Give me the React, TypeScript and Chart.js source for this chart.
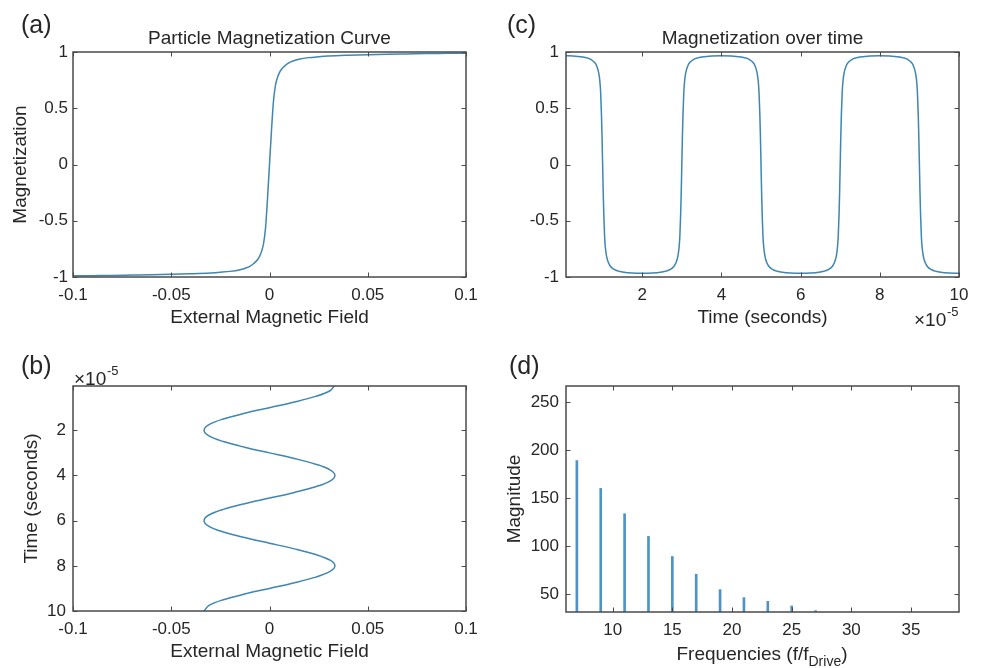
import React, { useEffect, useRef } from "react";
import { Chart, registerables } from "chart.js";

Chart.register(...registerables);

const FONT = "'Liberation Sans', Arial, Helvetica, sans-serif";
const TEXT = "#262626";
const AXIS = "#4a4a4a";
const LINE = "#3f86b0";
const STEM = "#4f93c4";

// ---------- (a) Particle magnetization curve ----------
const fieldA = [-0.1, -0.09, -0.08, -0.07, -0.06, -0.05, -0.04, -0.03, -0.025, -0.02, -0.015, -0.012, -0.01, -0.008, -0.006, -0.005, -0.004, -0.003, -0.002, -0.001, 0, 0.001, 0.002, 0.003, 0.004, 0.005, 0.006, 0.008, 0.01, 0.012, 0.015, 0.02, 0.025, 0.03, 0.04, 0.05, 0.06, 0.07, 0.08, 0.09, 0.1];
const magA = [-0.99, -0.988, -0.986, -0.983, -0.98, -0.976, -0.971, -0.964, -0.958, -0.95, -0.935, -0.92, -0.905, -0.88, -0.845, -0.815, -0.77, -0.7, -0.56, -0.3, 0, 0.3, 0.56, 0.7, 0.77, 0.815, 0.845, 0.88, 0.905, 0.92, 0.935, 0.95, 0.958, 0.964, 0.971, 0.976, 0.98, 0.983, 0.986, 0.988, 0.99];
const xTicksA = [-0.1, -0.05, 0, 0.05, 0.1];
const yTicksA = [-1, -0.5, 0, 0.5, 1];

// ---------- (b) Field over time (time in units of 1e-5 s) ----------
const timeB = [0, 0.25, 0.5, 0.75, 1, 1.25, 1.5, 1.75, 2, 2.25, 2.5, 2.75, 3, 3.25, 3.5, 3.75, 4, 4.25, 4.5, 4.75, 5, 5.25, 5.5, 5.75, 6, 6.25, 6.5, 6.75, 7, 7.25, 7.5, 7.75, 8, 8.25, 8.5, 8.75, 9, 9.25, 9.5, 9.75, 10];
const fieldB = [0.0333, 0.0308, 0.0235, 0.0127, 0, -0.0127, -0.0235, -0.0308, -0.0333, -0.0308, -0.0235, -0.0127, 0, 0.0127, 0.0235, 0.0308, 0.0333, 0.0308, 0.0235, 0.0127, 0, -0.0127, -0.0235, -0.0308, -0.0333, -0.0308, -0.0235, -0.0127, 0, 0.0127, 0.0235, 0.0308, 0.0333, 0.0308, 0.0235, 0.0127, 0, -0.0127, -0.0235, -0.0308, -0.0333];
const xTicksB = [-0.1, -0.05, 0, 0.05, 0.1];
const yTicksB = [2, 4, 6, 8, 10];

// ---------- (c) Magnetization over time (time in units of 1e-5 s) ----------
const timeC = [
  0.075, 0.25,
  0.5, 0.6, 0.7, 0.8, 0.85, 0.9, 0.93, 0.95, 0.97, 0.985, 1, 1.015, 1.03, 1.05, 1.07, 1.1, 1.15, 1.2, 1.3, 1.4, 1.5,
  1.75, 2, 2.25,
  2.5, 2.6, 2.7, 2.8, 2.85, 2.9, 2.93, 2.95, 2.97, 2.985, 3, 3.015, 3.03, 3.05, 3.07, 3.1, 3.15, 3.2, 3.3, 3.4, 3.5,
  3.75, 4, 4.25,
  4.5, 4.6, 4.7, 4.8, 4.85, 4.9, 4.93, 4.95, 4.97, 4.985, 5, 5.015, 5.03, 5.05, 5.07, 5.1, 5.15, 5.2, 5.3, 5.4, 5.5,
  5.75, 6, 6.25,
  6.5, 6.6, 6.7, 6.8, 6.85, 6.9, 6.93, 6.95, 6.97, 6.985, 7, 7.015, 7.03, 7.05, 7.07, 7.1, 7.15, 7.2, 7.3, 7.4, 7.5,
  7.75, 8, 8.25,
  8.5, 8.6, 8.7, 8.8, 8.85, 8.9, 8.93, 8.95, 8.97, 8.985, 9, 9.015, 9.03, 9.05, 9.07, 9.1, 9.15, 9.2, 9.3, 9.4, 9.5,
  9.75, 10,
];
const magC = [
  0.967, 0.965,
  0.955, 0.948, 0.935, 0.906, 0.876, 0.816, 0.74, 0.64, 0.45, 0.25, 0, -0.25, -0.45, -0.64, -0.74, -0.816, -0.876, -0.906, -0.935, -0.948, -0.955,
  -0.965, -0.967, -0.965,
  -0.955, -0.948, -0.935, -0.906, -0.876, -0.816, -0.74, -0.64, -0.45, -0.25, 0, 0.25, 0.45, 0.64, 0.74, 0.816, 0.876, 0.906, 0.935, 0.948, 0.955,
  0.965, 0.967, 0.965,
  0.955, 0.948, 0.935, 0.906, 0.876, 0.816, 0.74, 0.64, 0.45, 0.25, 0, -0.25, -0.45, -0.64, -0.74, -0.816, -0.876, -0.906, -0.935, -0.948, -0.955,
  -0.965, -0.967, -0.965,
  -0.955, -0.948, -0.935, -0.906, -0.876, -0.816, -0.74, -0.64, -0.45, -0.25, 0, 0.25, 0.45, 0.64, 0.74, 0.816, 0.876, 0.906, 0.935, 0.948, 0.955,
  0.965, 0.967, 0.965,
  0.955, 0.948, 0.935, 0.906, 0.876, 0.816, 0.74, 0.64, 0.45, 0.25, 0, -0.25, -0.45, -0.64, -0.74, -0.816, -0.876, -0.906, -0.935, -0.948, -0.955,
  -0.965, -0.967,
];
const xTicksC = [2, 4, 6, 8, 10];
const yTicksC = [-1, -0.5, 0, 0.5, 1];

// ---------- (d) Harmonic spectrum ----------
const freqD = [7, 9, 11, 13, 15, 17, 19, 21, 23, 25, 27];
const magD = [189, 160, 133.6, 110, 89, 70.6, 54.5, 46.2, 42.3, 37.5, 32.6];
const xTicksD = [10, 15, 20, 25, 30, 35];
const yTicksD = [50, 100, 150, 200, 250];

// ---------- helpers ----------
const boxTicksPlugin = {
  id: "boxTicks",
  afterDatasetsDraw(chart: any) {
    const { ctx, chartArea: a, scales } = chart;
    const L = 4.5;
    ctx.save();
    ctx.strokeStyle = AXIS;
    ctx.lineWidth = 1;
    ctx.beginPath();
    for (const t of scales.x.ticks) {
      const p = Math.round(scales.x.getPixelForValue(t.value)) + 0.5;
      ctx.moveTo(p, a.bottom);
      ctx.lineTo(p, a.bottom - L);
      ctx.moveTo(p, a.top);
      ctx.lineTo(p, a.top + L);
    }
    for (const t of scales.y.ticks) {
      const p = Math.round(scales.y.getPixelForValue(t.value)) + 0.5;
      ctx.moveTo(a.left, p);
      ctx.lineTo(a.left + L, p);
      ctx.moveTo(a.right, p);
      ctx.lineTo(a.right - L, p);
    }
    ctx.stroke();
    ctx.lineWidth = 1.5;
    ctx.strokeRect(a.left, a.top, a.right - a.left, a.bottom - a.top);
    ctx.restore();
  },
};

function xScale(o: any) {
  return {
    type: "linear",
    min: o.min,
    max: o.max,
    offset: false,
    afterBuildTicks: (s: any) => {
      s.ticks = o.ticks.map((v: number) => ({ value: v }));
    },
    afterFit: (s: any) => {
      s.height = o.h;
    },
    grid: { display: false, drawTicks: false },
    border: { display: false },
    ticks: {
      color: TEXT,
      font: { family: FONT, size: 17 },
      padding: 8,
      maxRotation: 0,
      autoSkip: false,
      callback: (v: number) => String(v),
    },
    title: o.title
      ? { display: true, text: o.title, color: TEXT, font: { family: FONT, size: 19 }, padding: { top: 0, bottom: 4.6 } }
      : { display: false },
  };
}

function yScale(o: any) {
  return {
    type: "linear",
    min: o.min,
    max: o.max,
    reverse: !!o.reverse,
    afterBuildTicks: (s: any) => {
      s.ticks = o.ticks.map((v: number) => ({ value: v }));
    },
    afterFit: (s: any) => {
      s.width = o.w;
    },
    grid: { display: false, drawTicks: false },
    border: { display: false },
    ticks: {
      color: TEXT,
      font: { family: FONT, size: 17 },
      padding: o.pad,
      autoSkip: false,
      callback: (v: number) => String(v),
    },
    title: o.title
      ? { display: true, text: o.title, color: TEXT, font: { family: FONT, size: 19 }, padding: { top: o.titlePad, bottom: 0 } }
      : { display: false },
  };
}

const baseOptions = (padding: any, scales: any) => ({
  responsive: false,
  animation: false,
  events: [],
  layout: { padding },
  plugins: { legend: { display: false }, tooltip: { enabled: false }, title: { display: false } },
  scales,
});

function configA() {
  return {
    type: "scatter",
    data: {
      datasets: [
        {
          data: fieldA.map((h, i) => ({ x: h, y: magA[i] })),
          showLine: true,
          borderColor: LINE,
          borderWidth: 1.5,
          pointRadius: 0,
          cubicInterpolationMode: "monotone",
        },
      ],
    },
    options: baseOptions(
      { left: 0, top: 52, right: 24, bottom: 0 },
      {
        x: xScale({ min: -0.1, max: 0.1, ticks: xTicksA, h: 57, title: "External Magnetic Field" }),
        y: yScale({ min: -1, max: 1, ticks: yTicksA, w: 73, pad: 5, title: "Magnetization", titlePad: 9.6 }),
      }
    ),
    plugins: [boxTicksPlugin],
  };
}

function configB() {
  return {
    type: "scatter",
    data: {
      datasets: [
        {
          data: timeB.map((t, i) => ({ x: fieldB[i], y: t })),
          showLine: true,
          borderColor: LINE,
          borderWidth: 1.5,
          pointRadius: 0,
          tension: 0.35,
        },
      ],
    },
    options: baseOptions(
      { left: 0, top: 52, right: 24, bottom: 0 },
      {
        x: xScale({ min: -0.1, max: 0.1, ticks: xTicksB, h: 57, title: "External Magnetic Field" }),
        y: yScale({ min: 0.04, max: 10, reverse: true, ticks: yTicksB, w: 73, pad: 7, title: "Time (seconds)", titlePad: 20.6 }),
      }
    ),
    plugins: [boxTicksPlugin],
  };
}

function configC() {
  return {
    type: "scatter",
    data: {
      datasets: [
        {
          data: timeC.map((t, i) => ({ x: t, y: magC[i] })),
          showLine: true,
          borderColor: LINE,
          borderWidth: 1.5,
          pointRadius: 0,
          cubicInterpolationMode: "monotone",
        },
      ],
    },
    options: baseOptions(
      { left: 0, top: 52, right: 22, bottom: 0 },
      {
        x: xScale({ min: 0.075, max: 10, ticks: xTicksC, h: 57, title: "Time (seconds)" }),
        y: yScale({ min: -1, max: 1, ticks: yTicksC, w: 76, pad: 7 }),
      }
    ),
    plugins: [boxTicksPlugin],
  };
}

function configD() {
  return {
    type: "bar",
    data: {
      datasets: [
        {
          data: freqD.map((f, i) => ({ x: f, y: magD[i] })),
          backgroundColor: STEM,
          borderWidth: 0,
          barThickness: 2,
        },
      ],
    },
    options: baseOptions(
      { left: 0, top: 52, right: 22, bottom: 0 },
      {
        x: xScale({ min: 6.09, max: 39.02, ticks: xTicksD, h: 56 }),
        y: yScale({ min: 31.2, max: 266.7, ticks: yTicksD, w: 76, pad: 7, title: "Magnitude", titlePad: 13.6 }),
      }
    ),
    plugins: [boxTicksPlugin],
  };
}

function Panel({ left, top, width, height, make }: any) {
  const ref = useRef<HTMLCanvasElement | null>(null);
  useEffect(() => {
    const chart = new Chart(ref.current as HTMLCanvasElement, make() as any);
    return () => chart.destroy();
  }, []);
  return (
    <canvas
      ref={ref}
      width={width}
      height={height}
      style={{ position: "absolute", left, top, width, height, display: "block" }}
    />
  );
}

const textBase: any = { position: "absolute", fontFamily: FONT, color: TEXT, whiteSpace: "nowrap" };

function Centered({ cx, cy, size, children }: any) {
  return (
    <div style={{ ...textBase, left: cx - 250, width: 500, top: cy - size * 0.6, height: size * 1.2, lineHeight: `${size * 1.2}px`, fontSize: size, textAlign: "center" }}>
      {children}
    </div>
  );
}

function Label({ x, cy, size, children }: any) {
  return (
    <div style={{ ...textBase, left: x, top: cy - size * 0.6, lineHeight: `${size * 1.2}px`, fontSize: size }}>{children}</div>
  );
}

function Exponent({ x, cy }: any) {
  return (
    <>
      <Label x={x} cy={cy} size={19}>×10</Label>
      <Label x={x + 33} cy={cy - 8} size={13}>-5</Label>
    </>
  );
}

export default function App() {
  return (
    <div style={{ position: "fixed", left: 0, top: 0, width: 981, height: 668, background: "#ffffff", overflow: "hidden" }}>
      <Panel left={0} top={0} width={490} height={334} make={configA} />
      <Panel left={490} top={0} width={491} height={334} make={configC} />
      <Panel left={0} top={334} width={490} height={334} make={configB} />
      <Panel left={490} top={334} width={491} height={334} make={configD} />

      <Label x={21} cy={24} size={25}>(a)</Label>
      <Label x={507} cy={24} size={25}>(c)</Label>
      <Label x={21} cy={365} size={25}>(b)</Label>
      <Label x={509} cy={365} size={25}>(d)</Label>

      <Centered cx={269.5} cy={38} size={19}>Particle Magnetization Curve</Centered>
      <Centered cx={762.5} cy={38} size={19}>Magnetization over time</Centered>

      <Exponent x={914} cy={320} />
      <Exponent x={74} cy={379} />

      <div style={{ ...textBase, left: 512, width: 500, top: 643, fontSize: 19, lineHeight: "22px", textAlign: "center" }}>
        Frequencies (f/f<span style={{ fontSize: 14, position: "relative", top: 6 }}>Drive</span>)
      </div>
    </div>
  );
}
